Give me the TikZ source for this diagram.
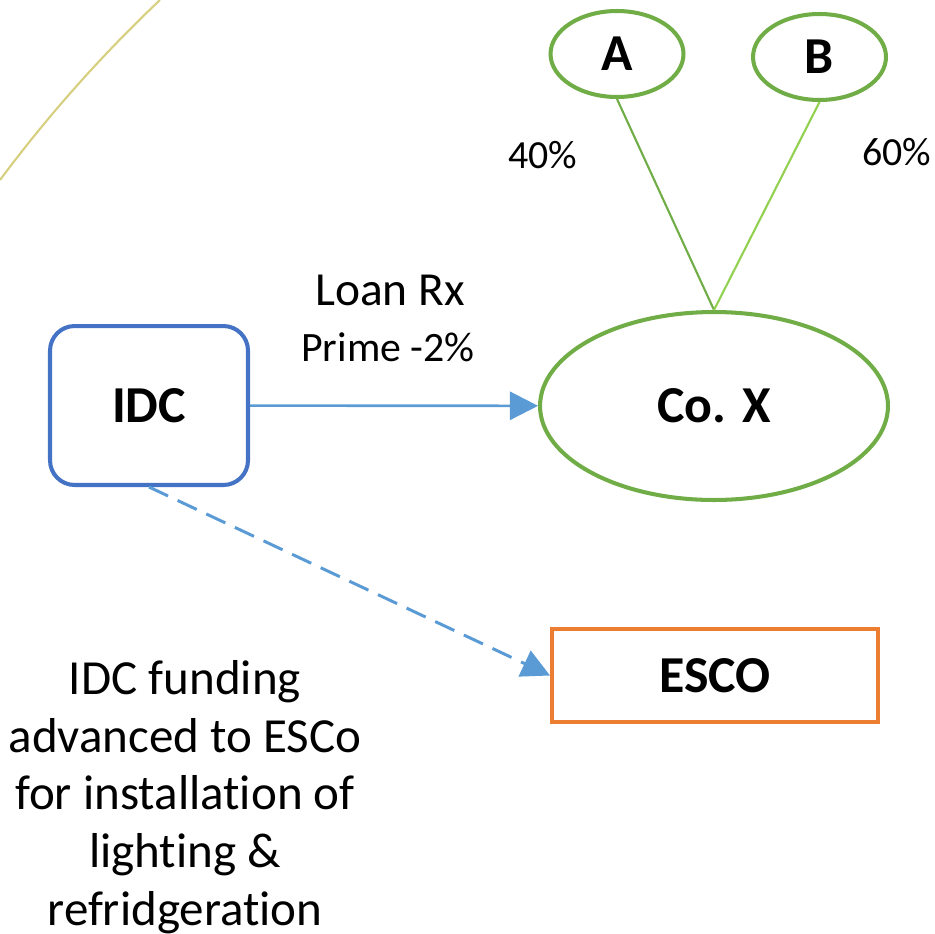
\documentclass[tikz,border=0pt]{standalone}
\usepackage{fontspec}
\setmainfont{Carlito}[Ligatures={NoCommon,NoContextual}]
\usepackage{tikz}
\usetikzlibrary{arrows.meta, shapes.geometric}

\definecolor{idcblue}{RGB}{68,114,196}
\definecolor{arrowblue}{RGB}{91,155,213}
\definecolor{ownergreen}{RGB}{112,173,71}
\definecolor{lightgreen}{RGB}{146,208,80}
\definecolor{escoorange}{RGB}{237,125,49}
\definecolor{arcyellow}{RGB}{214,207,128}

\tikzset{
    boldlabel/.style={font=\fontsize{29.5}{35}\selectfont\bfseries},
    owner/.style={draw=ownergreen, line width=2.3pt, ellipse, inner sep=0pt,
        minimum width=2.66cm, minimum height=1.72cm, boldlabel},
    sharetext/.style={font=\fontsize{22.7}{27}\selectfont},
}

\begin{document}
\begin{tikzpicture}[x=0.02cm, y=-0.02cm]
            \useasboundingbox (0,0) rectangle (935,933);

            % Faint arc in the corner
            \draw[arcyellow, line width=1.2pt] (160,0) .. controls (101.5,55.4) and (48.1,115.4) .. (0,180);

            % Owners
            \node[owner] (a) at (617,54) {A};
            \node[owner] (b) at (819.5,57) {B};

            % Company
            \node[draw=ownergreen, line width=2.3pt, ellipse, inner sep=0pt,
                minimum width=6.96cm, minimum height=3.76cm, boldlabel] (cox) at (714,406) {Co. X};

            % Shareholding lines
            \draw[ownergreen, line width=1.2pt] (a.south) -- (cox.north);
            \draw[lightgreen, line width=1.2pt] (b.south) -- (cox.north);
            \node[sharetext] (pa) at (543,155) {40\%};
            \node[sharetext] (pb) at (897,152) {60\%};

            % Lender
            \node[draw=idcblue, line width=2.3pt, rounded corners=14pt,
                minimum width=3.96cm, minimum height=3.18cm, boldlabel] (idc) at (149,405.5) {IDC};

            % ESCO
            \node[draw=escoorange, line width=2.3pt,
                minimum width=6.52cm, minimum height=1.86cm, boldlabel] (esco) at (715,675.5) {ESCO};

            % Loan
            \draw[-{Triangle[length=16pt, width=16pt]}, arrowblue, line width=1.5pt] (idc) -- (cox);
            \node[font=\fontsize{27}{32}\selectfont] (loan) at (390,290) {Loan Rx};
            \node[font=\fontsize{23.8}{29}\selectfont] (rate) at (388,347) {Prime -2\%};

            % Funding to ESCO
            \draw[-{Triangle[length=16pt, width=16pt]}, arrowblue, line width=1.7pt,
                dash pattern=on 12pt off 6pt] (idc.south) -- (esco.west);
            \node[font=\fontsize{27.9}{32.9}\selectfont, align=center] (note) at (185,797)
                {IDC funding\\advanced to ESCo\\for installation of\\lighting \&\\refridgeration};
        \end{tikzpicture}
\end{document}
